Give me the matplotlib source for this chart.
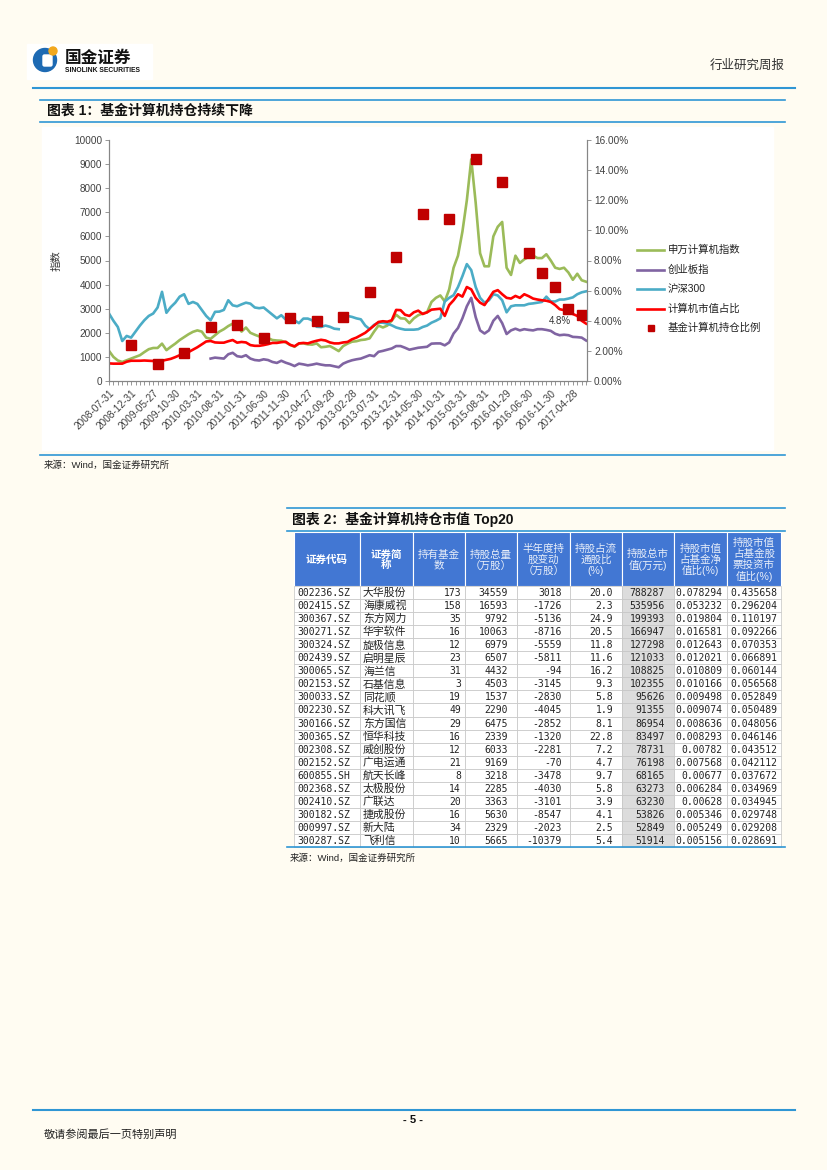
import matplotlib
matplotlib.use('Agg')
import matplotlib.pyplot as plt
import matplotlib.patches as mpatches
import numpy as np

plt.rcParams['font.family'] = ['Liberation Sans', 'Noto Sans CJK SC', 'DejaVu Sans']

nan = np.nan

# monthly points, 2008-07 .. 2017-07
sw_computer = [1250, 1000, 850, 790, 860, 930, 1000, 1070, 1200, 1320,
               1370, 1370, 1550, 1280, 1420, 1550, 1700, 1820, 1940, 2040,
               2100, 2050, 1800, 1750, 1900, 2050, 2150, 2280, 2380, 2380,
               2050, 2220, 2000, 1920, 1850, 1800, 1780, 1700, 1680, 1670,
               1600, 1500, 1420, 1560, 1560, 1520, 1510, 1560, 1400, 1420,
               1450, 1350, 1240, 1450, 1550, 1630, 1650, 1700, 1720, 1770,
               2050, 2300, 2220, 2300, 2500, 2750, 2600, 2590, 2400, 2600,
               2730, 2800, 2850, 3280, 3450, 3550, 3300, 3800, 4700, 5200,
               6200, 7500, 9200, 7400, 5300, 4760, 4760, 6000, 6400, 6600,
               4700, 4400, 5200, 4900, 5050, 5150, 5200, 5100, 5100, 5260,
               5000, 4700, 4650, 4700, 4500, 4200, 4450, 4180, 4120]

cyb_index = [nan] * 23 + [
    930, 970, 950, 930, 1110, 1170, 1030, 1000, 1070, 930,
    870, 850, 900, 870, 790, 750, 840, 760, 700, 620,
    720, 690, 650, 680, 720, 680, 650, 650, 610, 570,
    720, 800, 860, 900, 930, 1000, 1070, 1030, 1210, 1250,
    1300, 1350, 1450, 1450, 1380, 1300, 1340, 1380, 1400, 1420,
    1550, 1560, 1560, 1480, 1600, 1970, 2200, 2600, 3100, 3450,
    2650, 2100, 1970, 2100, 2500, 2700, 2400, 1950, 2100, 2170,
    2100, 2150, 2120, 2100, 2150, 2150, 2120, 2080, 1960, 1900,
    1920, 1900, 1830, 1820, 1800, 1680]

hs300 = [2800, 2500, 2240, 1660, 1870, 1800, 2050, 2300, 2520, 2700,
         2800, 3050, 3700, 2830, 3070, 3250, 3500, 3600, 3200, 3280,
         3200, 2950, 2700, 2520, 2870, 2880, 2950, 3350, 3140, 3100,
         3180, 3250, 3210, 3050, 3020, 3050, 2900, 2750, 2600, 2730,
         2550, 2600, 2520, 2400, 2590, 2590, 2520, 2250, 2240, 2300,
         2250, 2170, 2150, nan, 2700, 2660, 2600, 2560, 2300, 2150,
         2330, 2420, 2420, 2380, 2310, 2220, 2170, 2130, 2130, 2130,
         2150, 2240, 2300, 2420, 2500, 2600, 3300, 3450, 3560, 3900,
         4350, 4850, 4600, 3900, 3450, 3250, 3350, 3600, 3550, 3350,
         2850, 3100, 3140, 3140, 3140, 3200, 3220, 3250, 3280, 3500,
         3300, 3300, 3380, 3380, 3420, 3470, 3600, 3680, 3720]

computer_mv = [730, 720, 720, 720, 800, 840, 840, 840, 850, 840,
               830, 800, 840, 880, 920, 990, 1070, 1120, 1200, 1300,
               1400, 1520, 1640, 1660, 1600, 1590, 1590, 1650, 1700, 1590,
               1620, 1600, 1490, 1460, 1460, 1490, 1530, 1580, 1580, 1610,
               1630, 1500, 1440, 1560, 1580, 1560, 1620, 1670, 1710, 1680,
               1600, 1560, 1560, 1600, 1620, 1730, 1800, 1900, 2000, 2150,
               2300, 2450, 2480, 2460, 2520, 2950, 2940, 2750, 2700, 2850,
               2920, 2780, 2850, 2960, 2980, 3000, 2700, 3150, 3350, 3600,
               3500, 3900, 3800, 3450, 3250, 3150, 3420, 3700, 3770, 3600,
               3450, 3420, 3530, 3450, 3600, 3520, 3420, 3380, 3350, 3330,
               3280, 3150, 2980, 2940, 2930, 2780, 2700, 2500, 2380]

# fund holding ratio (right axis, %) at report months
hold_pos = [5, 11, 17, 23, 29, 35, 41, 47, 53, 59, 65, 71, 77, 83, 89, 95, 98, 101, 104, 107]
hold_ratio = [2.37, 1.16, 1.86, 3.59, 3.70, 2.88, 4.15, 3.97, 4.26, 5.88,
              8.25, 11.06, 10.75, 14.72, 13.19, 8.53, 7.14, 6.25, 4.77, 4.41]

date_labels = ['2008-07-31', '2008-12-31', '2009-05-27', '2009-10-30', '2010-03-31',
               '2010-08-31', '2011-01-31', '2011-06-30', '2011-11-30', '2012-04-27',
               '2012-09-28', '2013-02-28', '2013-07-31', '2013-12-31', '2014-05-30',
               '2014-10-31', '2015-03-31', '2015-08-31', '2016-01-29', '2016-06-30',
               '2016-11-30', '2017-04-28']

series_names = ['申万计算机指数', '创业板指', '沪深300', '计算机市值占比', '基金计算机持仓比例']
series_colors = ['#9BBB59', '#8064A2', '#4BACC6', '#FF0000', '#C00000']

# table
header = ['证券代码', '证券简\n称', '持有基金\n数', '持股总量\n（万股）', '半年度持\n股变动\n（万股）',
          '持股占流\n通股比\n(%)', '持股总市\n值(万元)', '持股市值\n占基金净\n值比(%)',
          '持股市值\n占基金股\n票投资市\n值比(%)']
codes = ['002236.SZ', '002415.SZ', '300367.SZ', '300271.SZ', '300324.SZ', '002439.SZ',
         '300065.SZ', '002153.SZ', '300033.SZ', '002230.SZ', '300166.SZ', '300365.SZ',
         '002308.SZ', '002152.SZ', '600855.SH', '002368.SZ', '002410.SZ', '300182.SZ',
         '000997.SZ', '300287.SZ']
names = ['大华股份', '海康威视', '东方网力', '华宇软件', '旋极信息', '启明星辰', '海兰信',
         '石基信息', '同花顺', '科大讯飞', '东方国信', '恒华科技', '威创股份', '广电运通',
         '航天长峰', '太极股份', '广联达', '捷成股份', '新大陆', '飞利信']
funds = [173, 158, 35, 16, 12, 23, 31, 3, 19, 49, 29, 16, 12, 21, 8, 14, 20, 16, 34, 10]
shares = [34559, 16593, 9792, 10063, 6979, 6507, 4432, 4503, 1537, 2290,
          6475, 2339, 6033, 9169, 3218, 2285, 3363, 5630, 2329, 5665]
change = [3018, -1726, -5136, -8716, -5559, -5811, -94, -3145, -2830, -4045,
          -2852, -1320, -2281, -70, -3478, -4030, -3101, -8547, -2023, -10379]
float_pct = [20.0, 2.3, 24.9, 20.5, 11.8, 11.6, 16.2, 9.3, 5.8, 1.9,
             8.1, 22.8, 7.2, 4.7, 9.7, 5.8, 3.9, 4.1, 2.5, 5.4]
mkt_value = [788287, 535956, 199393, 166947, 127298, 121033, 108825, 102355, 95626, 91355,
             86954, 83497, 78731, 76198, 68165, 63273, 63230, 53826, 52849, 51914]
nav_pct = [0.078294, 0.053232, 0.019804, 0.016581, 0.012643, 0.012021, 0.010809, 0.010166,
           0.009498, 0.009074, 0.008636, 0.008293, 0.00782, 0.007568, 0.00677, 0.006284,
           0.00628, 0.005346, 0.005249, 0.005156]
stock_pct = [0.435658, 0.296204, 0.110197, 0.092266, 0.070353, 0.066891, 0.060144, 0.056568,
             0.052849, 0.050489, 0.048056, 0.046146, 0.043512, 0.042112, 0.037672, 0.034969,
             0.034945, 0.029748, 0.029208, 0.028691]

PAGE = '#FFFCF2'
BLUE = '#2F96D4'
W, H = 827, 1170

fig = plt.figure(figsize=(W / 100, H / 100), dpi=100)
fig.patch.set_facecolor(PAGE)
page = fig.add_axes([0, 0, 1, 1])
page.set_xlim(0, W)
page.set_ylim(H, 0)
page.axis('off')

# ---- page header / logo ----
page.add_patch(mpatches.Rectangle((27, 44), 125, 35, color='white'))
page.add_patch(mpatches.Circle((45, 60), 11.5, color='#1D6AB3'))
page.add_patch(mpatches.FancyBboxPatch((43, 55), 9, 11, boxstyle='round,pad=0,rounding_size=1.5',
                                       color='white'))
page.add_patch(mpatches.Circle((53, 51), 4, color='#F2A81D'))
page.text(65, 57.5, '国金证券', fontsize=12, fontweight='bold', color='#111111', va='center')
page.text(65, 70.5, 'SINOLINK SECURITIES', fontsize=4.9, fontweight='bold', color='#111111',
          va='center')
page.text(785, 66, '行业研究周报', fontsize=9, color='#333333', ha='right', va='center')
page.plot([33, 795], [88, 88], color=BLUE, lw=1.5)

# ---- figure 1 ----
page.plot([40, 785], [100, 100], color=BLUE, lw=1.2)
page.plot([40, 785], [122, 122], color=BLUE, lw=1.2)
page.text(47, 111, '图表 1：基金计算机持仓持续下降', fontsize=10, fontweight='bold',
          color='#111111', va='center')
page.add_patch(mpatches.Rectangle((42, 127), 731, 323, color='white'))
page.plot([40, 785], [455, 455], color=BLUE, lw=1.2)
page.text(44, 465, '来源：Wind，国金证券研究所', fontsize=6.8, color='#222222', va='center')

ax = fig.add_axes([109 / W, 1 - 381 / H, 478 / W, 241 / H])
ax.patch.set_visible(False)
x = np.arange(len(sw_computer))
ax.plot(x, sw_computer, color=series_colors[0], lw=1.9)
ax.plot(x, cyb_index, color=series_colors[1], lw=1.9)
ax.plot(x, hs300, color=series_colors[2], lw=1.9)
ax.plot(x, computer_mv, color=series_colors[3], lw=1.9)
ax.set_xlim(0, 108.2)
ax.set_ylim(0, 10000)
ax.set_yticks(range(0, 10001, 1000))
ax.set_xticks(range(0, 5 * len(date_labels), 5))
ax.set_xticklabels(date_labels, rotation=45, ha='right', rotation_mode='anchor')
ax.set_xticks(x, minor=True)
ax.set_ylabel('指数', fontsize=7.5, color='#333333', labelpad=9)

ax2 = ax.twinx()
ax2.plot(hold_pos, hold_ratio, linestyle='None', marker='s', markersize=6.5,
         color=series_colors[4])
ax2.set_ylim(0, 16)
ax2.set_yticks(range(0, 17, 2))
ax2.set_yticklabels(['%.2f%%' % v for v in range(0, 17, 2)])
ax2.text(102, 3.99, '4.8%', fontsize=7, color='#333333', ha='center', va='center')

for a in (ax, ax2):
    for s in a.spines.values():
        s.set_color('#868686')
        s.set_linewidth(0.8)
    a.spines['top'].set_visible(False)
    a.tick_params(which='both', direction='out', length=3, width=0.6, color='#868686',
                  labelsize=7.2, labelcolor='#404040', pad=2)

# legend
leg_y = [250, 269.5, 289, 308.5, 328]
for i in range(4):
    page.plot([637, 664], [leg_y[i], leg_y[i]], color=series_colors[i], lw=1.9)
    page.text(668, leg_y[i], series_names[i], fontsize=7.5, color='#222222', va='center')
page.plot([651], [leg_y[4]], marker='s', markersize=4, color=series_colors[4])
page.text(668, leg_y[4], series_names[4], fontsize=7.5, color='#222222', va='center')

# ---- figure 2 table ----
page.plot([287, 785], [508, 508], color=BLUE, lw=1.2)
page.plot([287, 785], [531, 531], color=BLUE, lw=1.2)
page.text(292, 519.5, '图表 2：基金计算机持仓市值 Top20', fontsize=10, fontweight='bold',
          color='#111111', va='center')

col_edges = [294, 360, 413, 465, 517, 570, 622, 674, 727, 781]
right_pad = [0, 0, 4, 9, 8, 9, 9, 5, 4]
head_top, head_bot = 532, 586
row_h = (847 - head_bot) / len(codes)

for j, lab in enumerate(header):
    x0, x1 = col_edges[j], col_edges[j + 1]
    page.add_patch(mpatches.Rectangle((x0, head_top), x1 - x0, head_bot - head_top,
                                      facecolor='#4277D3', edgecolor='white', lw=0.8))
    page.text((x0 + x1) / 2, (head_top + head_bot) / 2 + 1, lab, fontsize=7.6,
              color='white' if j < 2 else '#E8EEF9', fontweight='bold' if j < 2 else 'normal',
              ha='center', va='center', linespacing=1.1)

columns = [codes, names, funds, shares, change, float_pct, mkt_value, nav_pct, stock_pct]
for i in range(len(codes)):
    y0 = head_bot + i * row_h
    for j, col in enumerate(columns):
        x0, x1 = col_edges[j], col_edges[j + 1]
        page.add_patch(mpatches.Rectangle((x0, y0), x1 - x0, row_h,
                                          facecolor='#DCDCDC' if j == 6 else 'white',
                                          edgecolor='#C4C4C4', lw=0.5))
        val = str(col[i])
        if j == 1:
            page.text(x0 + 3, y0 + row_h / 2 + 0.5, val, fontsize=7.8, color='#222222',
                      ha='left', va='center')
        elif j == 0:
            page.text(x0 + 3, y0 + row_h / 2 + 0.5, val, fontsize=7, color='#222222',
                      ha='left', va='center', family='DejaVu Sans Mono')
        else:
            page.text(x1 - right_pad[j], y0 + row_h / 2 + 0.5, val, fontsize=7,
                      color='#222222', ha='right', va='center', family='DejaVu Sans Mono')

page.plot([287, 785], [847, 847], color=BLUE, lw=1.2)
page.text(290, 858, '来源：Wind，国金证券研究所', fontsize=6.8, color='#222222', va='center')

# ---- footer ----
page.plot([33, 795], [1110, 1110], color=BLUE, lw=1.5)
page.text(413, 1120, '- 5 -', fontsize=8, fontweight='bold', color='#111111',
          ha='center', va='center')
page.text(44, 1135, '敬请参阅最后一页特别声明', fontsize=8, color='#222222', va='center')

fig.savefig('out.png', dpi=100, facecolor=PAGE)
